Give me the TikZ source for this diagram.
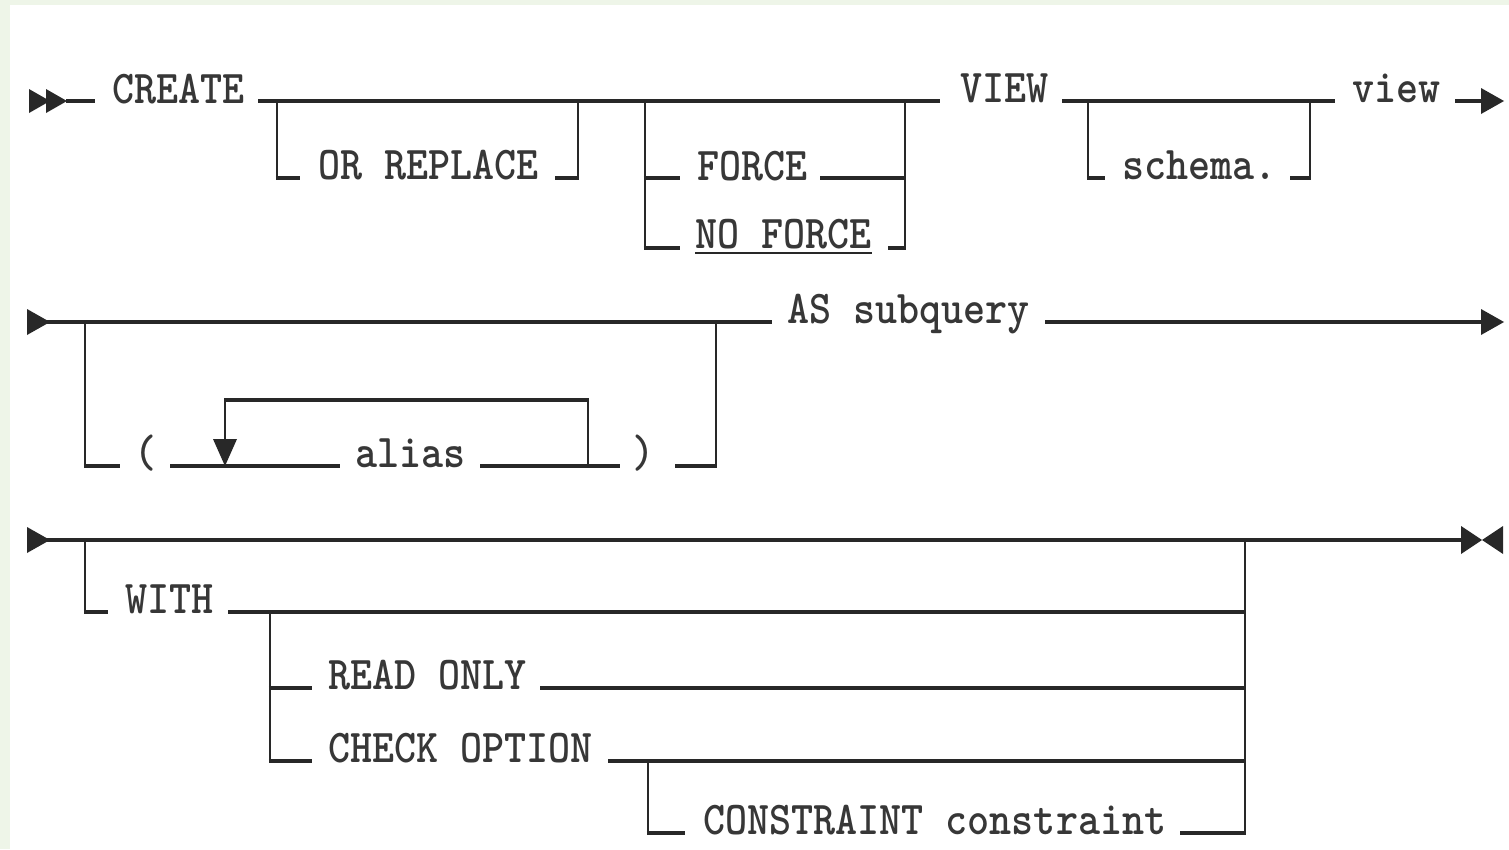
\documentclass[tikz,border=0pt]{standalone}
\usetikzlibrary{calc}
\usepackage{graphicx}
\definecolor{bgg}{RGB}{238,245,232}
\definecolor{ink}{RGB}{40,40,40}
\definecolor{txt}{RGB}{55,55,55}
\newcommand{\kwt}[1]{\scalebox{1}[1.12]{#1}}
\begin{document}
\begin{tikzpicture}[x=1pt,y=-1pt,
  hz/.style={line width=3.2pt, draw=ink, line cap=butt},
  vt/.style={line width=2.2pt, draw=ink, line cap=square},
  kw/.style={inner sep=0pt, anchor=base west, font=\fontsize{42}{42}\selectfont\ttfamily\bfseries, text=txt},
  tip/.style={fill=ink, draw=none}]
\fill[bgg] (0,0) rectangle (1509,849);
\fill[white] (10,5) rectangle (1509,849);
\useasboundingbox (0,0) rectangle (1509,849);

% ---------- Row 1 ----------
\fill[tip] (29,89) -- (50,101) -- (29,113) -- cycle;
\fill[tip] (46,89) -- (67,101) -- (46,113) -- cycle;
\coordinate (a0) at (66,101); \coordinate (a1) at (95,101);
\draw[hz] (a0) -- (a1);
\node[kw] (create) at (112,103) {\kwt{CREATE}};
\coordinate (b0) at (258,101); \coordinate (b1) at (940,101);
\draw[hz] (b0) -- (b1);
% OR REPLACE
\coordinate (orL) at (277,101); \coordinate (orR) at (578,101);
\coordinate (orLb) at (277,178); \coordinate (orRb) at (578,178);
\draw[vt] (orL) -- (orLb);
\draw[hz] ([xshift=-1.1pt]orLb) -- ++(24,0);
\node[kw] (orrep) at (318,179) {\kwt{OR REPLACE}};
\draw[hz] ([xshift=-23pt]orRb) -- ([xshift=1.1pt]orRb);
\draw[vt] (orRb) -- (orR);
% FORCE / NO FORCE
\coordinate (fL) at (645,101); \coordinate (fR) at (905,101);
\coordinate (fL1) at (645,178); \coordinate (fL2) at (645,248);
\coordinate (fR1) at (905,178); \coordinate (fR2) at (905,248);
\draw[vt] (fL) -- (fL2);
\draw[vt] (fR) -- (fR2);
\draw[hz] ([xshift=-1.1pt]fL1) -- ++(36,0);
\draw[hz] ([xshift=-1.1pt]fL2) -- ++(36,0);
\node[kw] (force) at (697,180) {\kwt{FORCE}};
\draw[hz] (820,178) -- ([xshift=1.1pt]fR1);
\node[kw] (noforce) at (695,248) {\kwt{NO FORCE}};
\draw[line width=2.4pt, ink] ($(noforce.base west)+(0,5)$) -- ($(noforce.base east)+(0,5)$);
\draw[hz] (888,248) -- ([xshift=1.1pt]fR2);
% VIEW
\node[kw] (viewkw) at (960,102) {\kwt{VIEW}};
\coordinate (c0) at (1062,101); \coordinate (c1) at (1335,101);
\draw[hz] (c0) -- (c1);
\coordinate (sL) at (1088,101); \coordinate (sR) at (1310,101);
\coordinate (sLb) at (1088,178); \coordinate (sRb) at (1310,178);
\draw[vt] (sL) -- (sLb);
\draw[hz] ([xshift=-1.1pt]sLb) -- (1105,178);
\node[kw] (schema) at (1122,179) {\kwt{schema.}};
\draw[hz] (1290,178) -- ([xshift=1.1pt]sRb);
\draw[vt] (sRb) -- (sR);
\node[kw] (view) at (1352,102) {\kwt{view}};
\coordinate (e1) at (1455,101);
\draw[hz] (e1) -- (1484,101);
\fill[tip] (1481,88) -- (1504,101) -- (1481,114) -- cycle;

% ---------- Row 2 ----------
\fill[tip] (27,309) -- (50,322) -- (27,335) -- cycle;
\coordinate (r2a) at (45,322); \coordinate (r2b) at (772,322);
\draw[hz] (r2a) -- (r2b);
\coordinate (pL) at (85,322); \coordinate (pR) at (716,322);
\coordinate (pLb) at (85,466); \coordinate (pRb) at (716,466);
\draw[vt] (pL) -- (pLb);
\draw[hz] ([xshift=-1.1pt]pLb) -- (120,466);
\node[kw] (lpar) at (134,467) {\kwt{(}};
\draw[hz] (170,466) -- (340,466);
\node[kw] (alias) at (355,467) {\kwt{alias}};
\draw[hz] (480,466) -- (620,466);
\coordinate (lpR) at (588,466); \coordinate (lpL) at (225,466);
\coordinate (lpRt) at (588,400); \coordinate (lpLt) at (225,400);
\draw[vt] (lpR) -- (lpRt);
\draw[hz] ([xshift=1.1pt]lpRt) -- ([xshift=-1.1pt]lpLt);
\draw[vt] (lpLt) -- (225,442);
\fill[tip] (213,439) -- (237,439) -- (lpL) -- cycle;
\node[kw] (rpar) at (632,467) {\kwt{)}};
\draw[hz] (675,466) -- ([xshift=1.1pt]pRb);
\draw[vt] (pRb) -- (pR);
\node[kw] (as) at (787,323) {\kwt{AS subquery}};
\draw[hz] (1045,322) -- (1484,322);
\fill[tip] (1481,309) -- (1504,322) -- (1481,335) -- cycle;

% ---------- Row 3 ----------
\fill[tip] (27,527) -- (50,540) -- (27,553) -- cycle;
\coordinate (r3a) at (45,540); \coordinate (r3b) at (1470,540);
\draw[hz] (r3a) -- (r3b);
\fill[tip] (1461,526) -- (1482,540) -- (1461,554) -- cycle;
\fill[tip] (1503,526) -- (1482,540) -- (1503,554) -- cycle;
\coordinate (wL) at (85,540); \coordinate (wR) at (1245,540);
\coordinate (wLb) at (85,612); \coordinate (wRb) at (1245,833);
\draw[vt] (wL) -- (wLb);
\draw[hz] ([xshift=-1.1pt]wLb) -- (108,612);
\node[kw] (with) at (125,613) {\kwt{WITH}};
\draw[hz] (228,612) -- (1246.1,612);
\draw[vt] (wR) -- (wRb);
\coordinate (oL) at (270,612); \coordinate (oLb) at (270,761);
\draw[vt] (oL) -- (oLb);
\draw[hz] ([xshift=-1.1pt]oLb) -- (312,761);
\draw[hz] (268.9,688) -- (312,688);
\node[kw] (ro) at (328,689) {\kwt{READ ONLY}};
\draw[hz] (540,688) -- (1246.1,688);
\node[kw] (co) at (328,762) {\kwt{CHECK OPTION}};
\draw[hz] (608,761) -- (1246.1,761);
\coordinate (cL) at (648,761); \coordinate (cLb) at (648,833);
\draw[vt] (cL) -- (cLb);
\draw[hz] ([xshift=-1.1pt]cLb) -- (685,833);
\node[kw] (cons) at (703,834) {\kwt{CONSTRAINT constraint}};
\draw[hz] (1180,833) -- ([xshift=1.1pt]wRb);
\end{tikzpicture}
\end{document}
